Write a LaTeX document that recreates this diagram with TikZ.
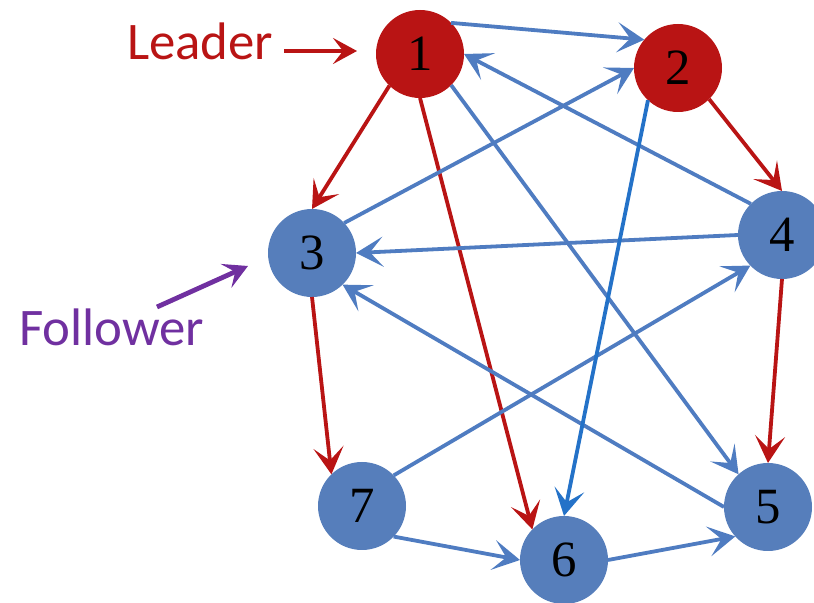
\documentclass[tikz,border=0pt]{standalone}
\usepackage{fontspec}
\usetikzlibrary{arrows.meta}
\newfontfamily\calfont{Carlito}
\newfontfamily\numfont{Liberation Serif}

\definecolor{leadred}{RGB}{185,20,20}
\definecolor{nodeblue}{RGB}{86,126,187}
\definecolor{edgeblue}{RGB}{79,124,193}
\definecolor{brightblue}{RGB}{36,114,200}
\definecolor{followpurple}{RGB}{112,48,160}

\tikzset{
  agent/.style={circle, minimum size=88bp, inner sep=0pt, outer sep=0pt,
    font=\numfont\fontsize{51}{51}\selectfont},
  redagent/.style={agent, fill=leadred},
  blueagent/.style={agent, fill=nodeblue},
  link/.style={line width=3.8bp, -{Stealth[length=27bp, width=30bp, inset=13bp]}},
  bluelink/.style={link, draw=edgeblue},
  redlink/.style={link, draw=leadred},
}

\begin{document}
\begin{tikzpicture}[x=1bp, y=1bp]
  \useasboundingbox (0,0) rectangle (814,603);

  % Agents
  \node[redagent]  (n1) at (420, 549) {1};
  \node[redagent]  (n2) at (678, 535) {2};
  \node[blueagent] (n3) at (312, 350) {3};
  \node[blueagent] (n4) at (782, 368) {4};
  \node[blueagent] (n5) at (768,  96) {5};
  \node[blueagent] (n6) at (564,  43) {6};
  \node[blueagent] (n7) at (362,  97) {7};

  % Labels
  \node[anchor=base west, inner sep=0pt, text=leadred,
    font=\calfont\fontsize{53}{53}\selectfont] (leader) at (127, 543) {Leader};
  \node[anchor=base west, inner sep=0pt, text=followpurple,
    font=\calfont\fontsize{53}{53}\selectfont] (follower) at (19, 257) {Follower};

  \coordinate (leadtail) at (284, 552);
  \coordinate (leadtip)  at (357, 552);
  \coordinate (folltail) at (157, 296);
  \coordinate (folltip)  at (248, 337);

  \draw[leadred, line width=4.8bp, -{Stealth[length=24bp, width=26bp, inset=10bp]}]
    (leadtail) -- (leadtip);
  \draw[followpurple, line width=4.8bp, -{Stealth[length=24bp, width=26bp, inset=10bp]}]
    (folltail) -- (folltip);

  % Red links
  \draw[redlink] (n1.226) -- (n3.90);
  \draw[redlink] (n1.270) -- (n6.136);
  \draw[redlink] (n2.315) -- (n4.90);
  \draw[redlink] (n4.270) -- (n5.90);
  \draw[redlink] (n3.270) -- (n7.134);

  % Blue links
  \draw[bluelink] (n1.45)  -- (n2.140);
  \draw[bluelink] (n4.135) -- (n1.0);
  \draw[bluelink] (n3.43)  -- (n2.180);
  \draw[bluelink] (n4.180) -- (n3.0);
  \draw[bluelink] (n1.315) -- (n5.132);
  \draw[bluelink] (n7.44)  -- (n4.224);
  \draw[bluelink] (n7.316) -- (n6.180);
  \draw[bluelink] (n6.0)   -- (n5.222);
  \draw[bluelink] (n5.180) -- (n3.314);
  \draw[link, draw=brightblue] (n2.227) -- (n6.90);
\end{tikzpicture}
\end{document}
